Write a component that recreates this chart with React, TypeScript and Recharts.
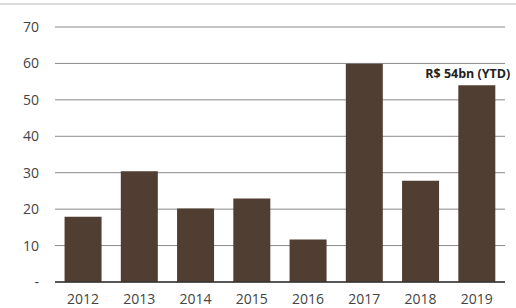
import { BarChart, Bar, XAxis, YAxis, CartesianGrid, LabelList } from "recharts";

// Values
const years = ["2012", "2013", "2014", "2015", "2016", "2017", "2018", "2019"];
const amounts = [17.9, 30.4, 20.2, 22.9, 11.7, 59.9, 27.8, 54];
const yTicks = [0, 10, 20, 30, 40, 50, 60, 70];
const ytdLabel = "R$ 54bn (YTD)";

const data = years.map((year, i) => ({ year, value: amounts[i] }));

const renderYtd = (props: any) => {
    const { x, y, width, index } = props;
    if (index !== years.length - 1) return null;
    return (
        <text
            x={x + width / 2 - 9}
            y={y - 7}
            textAnchor="middle"
            fill="#222"
            fontSize={12.5}
            fontWeight={700}
            fontFamily="Open Sans"
        >
            {ytdLabel}
        </text>
    );
};

export default function App() {
    return (
        <div style={{ position: "absolute", left: 0, top: 0, width: 516, height: 308, background: "#fff" }}>
            <div style={{ position: "absolute", left: 0, top: 3, width: 516, height: 2, background: "#dcdcdc" }} />
            <BarChart
                width={516}
                height={308}
                data={data}
                barCategoryGap="17%"
                margin={{ top: 27, right: 11, left: 0, bottom: 2 }}
            >
                <CartesianGrid vertical={false} stroke="#8a8a8a" />
                <XAxis
                    dataKey="year"
                    tickLine={false}
                    axisLine={{ stroke: "#333", strokeWidth: 1.5 }}
                    height={24}
                    tickMargin={6}
                    tick={{ fill: "#444", fontSize: 14, fontFamily: "Open Sans" }}
                />
                <YAxis
                    width={55}
                    domain={[0, 70]}
                    ticks={yTicks}
                    tickLine={false}
                    axisLine={false}
                    tickMargin={10}
                    tickFormatter={(v: number) => (v === 0 ? "-" : String(v))}
                    tick={{ fill: "#444", fontSize: 14, fontFamily: "Open Sans" }}
                />
                <Bar dataKey="value" fill="#4f3e31" isAnimationActive={false}>
                    <LabelList dataKey="value" content={renderYtd} />
                </Bar>
            </BarChart>
        </div>
    );
}
